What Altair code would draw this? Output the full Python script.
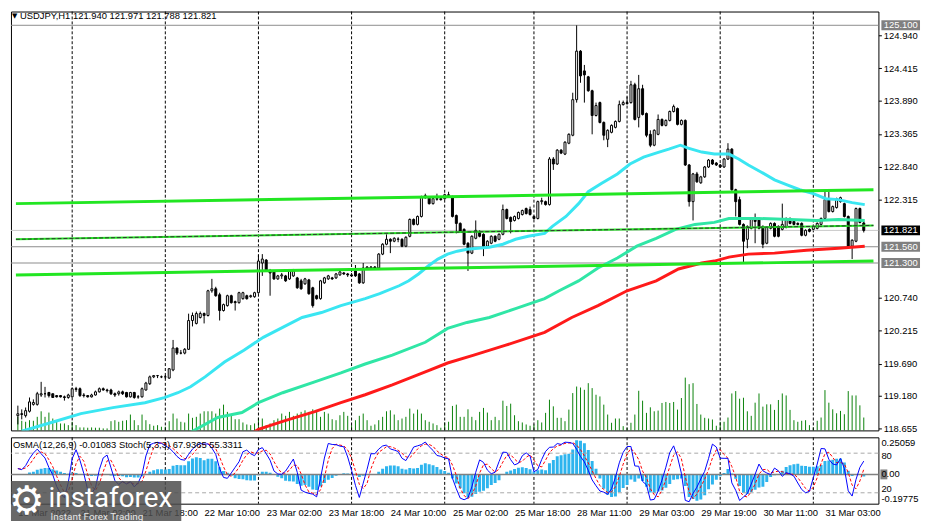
import altair as alt
import pandas as pd

# ---------------- data (USDJPY H1) ----------------
opens = [
    118.86, 118.89, 118.86, 118.93, 119.04, 119.04, 119.19, 119.21, 119.23, 119.21,
    119.18, 119.18, 119.16, 119.15, 119.16, 119.29, 119.29, 119.19, 119.18, 119.16,
    119.19, 119.24, 119.29, 119.27, 119.27, 119.21, 119.21, 119.24, 119.23, 119.16,
    119.23, 119.16, 119.16, 119.27, 119.37, 119.48, 119.50, 119.48, 119.48, 119.46,
    119.59, 119.94, 119.86, 119.86, 119.92, 120.381, 120.334, 120.429, 120.492, 120.461,
    120.856, 120.888, 120.793, 120.540, 120.619, 120.777, 120.682, 120.666, 120.730, 120.777,
    120.761, 120.761, 120.825, 121.300, 121.347, 121.173, 121.173, 121.046, 121.094, 121.094,
    121.046, 121.094, 121.062, 121.015, 120.967, 121.030, 120.904, 120.777, 120.730, 120.983,
    121.046, 121.062, 121.062, 121.110, 121.141, 121.125, 121.110, 121.173, 121.125, 120.983,
    121.220, 121.220, 121.236, 121.220, 121.442, 121.600, 121.679, 121.648, 121.679, 121.679,
    121.569, 121.727, 121.996, 121.917, 122.044, 122.344, 122.344, 122.249, 122.328, 122.328,
    122.328, 122.376, 122.344, 122.059, 121.933, 121.838, 121.616, 121.458, 121.695, 121.806,
    121.759, 121.569, 121.616, 121.727, 121.679, 121.759, 122.154, 122.028, 121.980, 122.012,
    122.075, 122.170, 122.154, 122.044, 122.012, 122.281, 122.281, 122.234, 122.962, 122.883,
    123.104, 123.041, 123.215, 123.342, 123.911, 124.687, 124.371, 124.276, 124.054, 123.658,
    123.864, 123.547, 123.278, 123.389, 123.468, 123.563, 123.832, 123.864, 123.864, 124.149,
    123.627, 124.086, 123.690, 123.357, 123.183, 123.357, 123.595, 123.500, 123.579, 123.722,
    123.769, 123.516, 123.579, 122.867, 122.281, 122.724, 122.582, 122.677, 122.835, 122.946,
    122.898, 122.867, 122.835, 122.962, 123.120, 122.471, 122.313, 121.917, 121.679, 121.854,
    122.012, 122.012, 121.885, 121.616, 121.854, 121.933, 121.885, 121.838, 121.869, 122.012,
    121.964, 121.933, 121.933, 121.743, 121.838, 121.838, 121.854, 121.917, 122.012, 122.328,
    122.123, 122.186, 122.281, 122.249, 122.044, 121.569, 121.648, 122.170, 121.940,
]
highs = [
    119.02, 118.96, 118.99, 119.15, 119.12, 119.24, 119.40, 119.32, 119.24, 119.21,
    119.19, 119.19, 119.18, 119.21, 119.31, 119.32, 119.31, 119.22, 119.19, 119.21,
    119.26, 119.31, 119.31, 119.29, 119.29, 119.23, 119.26, 119.26, 119.24, 119.24,
    119.24, 119.19, 119.31, 119.40, 119.50, 119.51, 119.51, 119.50, 119.51, 119.62,
    120.07, 119.95, 119.91, 119.94, 120.49, 120.508, 120.524, 120.524, 120.508, 120.872,
    121.046, 120.920, 120.825, 120.651, 120.793, 120.793, 120.698, 120.840, 120.840, 120.793,
    120.793, 120.840, 121.426, 121.442, 121.363, 121.205, 121.189, 121.110, 121.141, 121.110,
    121.189, 121.205, 121.078, 121.046, 121.062, 121.046, 120.920, 120.793, 121.030, 121.078,
    121.110, 121.078, 121.141, 121.173, 121.157, 121.141, 121.141, 121.268, 121.141, 121.300,
    121.252, 121.252, 121.252, 121.458, 121.616, 121.759, 121.695, 121.711, 121.711, 121.695,
    121.727, 122.012, 122.012, 122.059, 122.376, 122.408, 122.360, 122.344, 122.408, 122.360,
    122.408, 122.439, 122.376, 122.075, 121.949, 121.854, 121.632, 121.743, 121.980, 121.822,
    121.774, 121.664, 121.743, 121.743, 121.774, 122.234, 122.170, 122.044, 122.059, 122.123,
    122.154, 122.186, 122.202, 122.059, 122.297, 122.344, 122.297, 122.993, 122.993, 123.120,
    123.120, 123.247, 123.373, 124.022, 125.099, 124.703, 124.466, 124.291, 124.070, 123.864,
    123.880, 123.563, 123.437, 123.516, 123.579, 123.896, 123.896, 123.959, 124.212, 124.181,
    124.307, 124.149, 123.706, 123.421, 123.437, 123.674, 123.611, 123.595, 123.737, 123.832,
    123.785, 123.595, 123.595, 122.883, 122.740, 122.756, 122.693, 122.851, 122.962, 122.962,
    122.914, 122.883, 122.978, 123.215, 123.136, 122.487, 122.360, 121.933, 121.901, 122.028,
    122.091, 122.028, 121.901, 121.885, 121.949, 121.949, 121.901, 122.249, 122.028, 122.028,
    121.980, 121.949, 121.949, 121.838, 121.854, 121.901, 121.949, 122.028, 122.439, 122.439,
    122.218, 122.344, 122.360, 122.265, 122.059, 121.679, 122.186, 122.186, 121.971,
]
lows = [
    118.72, 118.80, 118.83, 118.91, 119.02, 119.02, 119.16, 119.15, 119.15, 119.15,
    119.15, 119.15, 119.10, 119.13, 119.15, 119.24, 119.16, 119.15, 119.15, 119.15,
    119.18, 119.23, 119.26, 119.23, 119.19, 119.16, 119.18, 119.19, 119.15, 119.15,
    119.13, 119.13, 119.15, 119.26, 119.35, 119.46, 119.46, 119.46, 119.45, 119.45,
    119.57, 119.83, 119.84, 119.84, 119.91, 120.286, 120.318, 120.413, 120.334, 120.445,
    120.825, 120.761, 120.381, 120.524, 120.603, 120.651, 120.540, 120.651, 120.714, 120.714,
    120.745, 120.745, 120.809, 121.094, 121.157, 120.777, 121.030, 121.030, 121.046, 120.999,
    121.030, 121.078, 120.888, 120.872, 120.951, 120.793, 120.587, 120.714, 120.714, 120.967,
    121.030, 121.030, 121.046, 121.094, 121.110, 121.078, 121.078, 121.078, 120.967, 120.967,
    121.205, 121.205, 121.205, 121.205, 121.426, 121.584, 121.458, 121.632, 121.632, 121.553,
    121.553, 121.711, 121.901, 121.901, 122.028, 122.328, 122.234, 122.234, 122.297, 122.297,
    122.313, 122.344, 122.028, 121.774, 121.790, 121.584, 121.173, 121.442, 121.679, 121.711,
    121.410, 121.553, 121.600, 121.632, 121.664, 121.743, 121.996, 121.774, 121.964, 121.996,
    122.059, 122.075, 122.059, 121.996, 121.996, 122.234, 122.218, 122.218, 122.788, 122.867,
    123.041, 123.025, 123.199, 123.326, 123.864, 124.181, 123.864, 124.038, 123.357, 123.642,
    123.532, 123.262, 123.152, 123.373, 123.452, 123.547, 123.817, 123.832, 123.848, 123.579,
    123.468, 123.658, 123.310, 123.152, 123.167, 123.342, 123.484, 123.484, 123.563, 123.706,
    123.500, 123.500, 122.851, 122.202, 121.980, 122.582, 122.566, 122.661, 122.819, 122.867,
    122.851, 122.819, 122.819, 122.946, 122.455, 122.044, 121.901, 121.300, 121.537, 121.838,
    121.616, 121.838, 121.537, 121.600, 121.838, 121.711, 121.711, 121.822, 121.854, 121.917,
    121.901, 121.901, 121.727, 121.727, 121.790, 121.822, 121.838, 121.901, 121.996, 122.107,
    122.107, 122.170, 122.265, 122.028, 121.553, 121.363, 121.632, 121.933, 121.788,
]
closes = [
    118.89, 118.88, 118.94, 119.08, 119.07, 119.21, 119.21, 119.21, 119.18, 119.15,
    119.16, 119.16, 119.15, 119.19, 119.29, 119.28, 119.18, 119.18, 119.16, 119.19,
    119.24, 119.29, 119.27, 119.26, 119.21, 119.19, 119.24, 119.21, 119.16, 119.23,
    119.15, 119.16, 119.29, 119.38, 119.48, 119.50, 119.50, 119.48, 119.48, 119.61,
    119.94, 119.86, 119.86, 119.92, 120.38, 120.461, 120.492, 120.492, 120.461, 120.856,
    120.888, 120.777, 120.540, 120.635, 120.777, 120.666, 120.666, 120.825, 120.825, 120.730,
    120.777, 120.825, 121.331, 121.363, 121.173, 121.141, 121.046, 121.094, 121.110, 121.015,
    121.173, 121.173, 120.904, 120.888, 121.046, 120.809, 120.619, 120.730, 121.015, 121.062,
    121.094, 121.046, 121.125, 121.157, 121.125, 121.110, 121.094, 121.094, 120.983, 121.220,
    121.236, 121.236, 121.220, 121.442, 121.600, 121.679, 121.648, 121.695, 121.683, 121.569,
    121.711, 121.996, 121.917, 122.044, 122.360, 122.376, 122.249, 122.328, 122.320, 122.313,
    122.392, 122.392, 122.044, 121.933, 121.806, 121.600, 121.458, 121.727, 121.822, 121.727,
    121.569, 121.648, 121.727, 121.648, 121.759, 122.154, 122.012, 121.964, 122.044, 122.107,
    122.139, 122.091, 122.075, 122.012, 122.281, 122.297, 122.234, 122.962, 122.883, 123.104,
    123.057, 123.231, 123.357, 123.911, 124.687, 124.291, 124.307, 124.054, 123.658, 123.817,
    123.547, 123.342, 123.421, 123.500, 123.563, 123.832, 123.864, 123.848, 124.149, 123.595,
    124.086, 123.674, 123.342, 123.183, 123.421, 123.595, 123.500, 123.579, 123.722, 123.801,
    123.516, 123.579, 122.867, 122.281, 122.724, 122.598, 122.677, 122.835, 122.946, 122.883,
    122.867, 122.835, 122.962, 123.120, 122.471, 122.281, 121.917, 121.648, 121.885, 122.012,
    121.964, 121.854, 121.600, 121.869, 121.933, 121.727, 121.727, 121.917, 122.012, 121.933,
    121.917, 121.917, 121.743, 121.822, 121.806, 121.885, 121.933, 122.012, 122.313, 122.123,
    122.202, 122.328, 122.344, 122.044, 121.569, 121.664, 122.170, 121.949, 121.821,
]
volumes = [
    1370, 970, 870, 1030, 970, 1370, 1930, 1370, 1800, 1200,
    870, 700, 700, 530, 870, 530, 300, 300, 270, 300,
    270, 270, 200, 200, 930, 1030, 870, 970, 1030, 1600,
    1030, 530, 1600, 1030, 630, 470, 530, 370, 370, 930,
    1700, 1200, 870, 800, 1700, 1270, 1370, 1700, 1930, 1930,
    1930, 1700, 2200, 2600, 1870, 1470, 1130, 1130, 800, 600,
    530, 700, 1270, 1200, 530, 700, 1030, 1200, 1700, 1470,
    1870, 1470, 1700, 1870, 2030, 1870, 2130, 1870, 1370, 1870,
    1700, 1130, 1030, 1530, 1870, 1470, 530, 1030, 1470, 1700,
    1030, 470, 600, 1030, 1370, 1930, 2030, 1600, 1030, 1200,
    1370, 2200, 1700, 2100, 1700, 1030, 870, 700, 530, 270,
    800, 870, 2470, 2600, 1370, 1370, 2130, 1370, 1030, 1870,
    2270, 1800, 1030, 1370, 1030, 3000, 2470, 2700, 1530, 930,
    800, 600, 470, 600, 1030, 800, 1770, 3100, 2430, 1270,
    1270, 930, 2100, 3770, 4430, 4330, 4100, 4770, 4270, 3600,
    3430, 2600, 1600, 770, 1200, 1200, 430, 270, 770, 1600,
    4000, 3000, 1770, 2330, 1930, 2000, 2770, 2870, 2770, 2870,
    2100, 3270, 5330, 4670, 4770, 2670, 1600, 1270, 1200, 1100,
    470, 870, 870, 1300, 3730, 3970, 3200, 3300, 1930, 1470,
    2800, 3730, 2400, 2630, 2630, 2070, 3070, 3730, 3530, 2070,
    1030, 870, 970, 1030, 530, 300, 970, 1300, 4070, 2800,
    2130, 1730, 1970, 1630, 3970, 3530, 3530, 2530, 1300,
]

# moving averages (bar index, price)
ma_fast_idx = [1, 9.5, 16.25, 24.5, 32.75, 37.75, 41.25, 44.5, 48.25, 53.25, 58.25, 63.25, 68.25,
               73.25, 78.25, 83.25, 89.5, 93.25, 98.25, 100.75, 103.25, 105.75, 108.25, 110.75,
               113.25, 115.75, 121.5, 125, 128.25, 131.5, 135.75, 137.75, 141.25, 144.5, 147,
               150.25, 154.5, 157.75, 161.25, 165.25, 167.75, 170.75, 172.75, 176.25, 179.5,
               183.25, 185.75, 188.25, 191.5, 195, 198.25, 201.5, 205, 208.25, 211.5, 215, 218.25]
ma_fast_val = [118.61, 118.767, 118.893, 118.988, 119.067, 119.147, 119.226, 119.321, 119.479,
               119.716, 119.907, 120.112, 120.271, 120.429, 120.508, 120.619, 120.730, 120.809,
               120.936, 121.015, 121.125, 121.252, 121.363, 121.442, 121.489, 121.521, 121.553,
               121.600, 121.679, 121.727, 121.774, 121.885, 122.044, 122.249, 122.439, 122.566,
               122.724, 122.882, 122.993, 123.073, 123.120, 123.183, 123.136, 123.073, 123.041,
               123.041, 122.962, 122.867, 122.756, 122.629, 122.550, 122.471, 122.408, 122.328,
               122.313, 122.265, 122.233]
ma_mid_idx = [44.5, 51.5, 57.75, 62, 68.25, 76.5, 83.25, 89.5, 96.5, 105, 110.75, 115.75, 121.5,
              128.25, 135.75, 139.5, 144.5, 149.5, 154.5, 159.5, 164.5, 169.5, 174.5, 179.5,
              183.25, 190.75, 199, 205.75, 211.5, 218.25]
ma_mid_val = [118.593, 118.830, 118.909, 119.067, 119.226, 119.400, 119.542, 119.685, 119.827,
              120.033, 120.255, 120.350, 120.429, 120.571, 120.730, 120.856, 121.014, 121.220,
              121.379, 121.569, 121.695, 121.838, 121.917, 121.949, 122.012, 122.012, 121.996,
              121.980, 121.996, 121.980]
ma_slow_idx = [60.75, 62, 68.25, 76.5, 83.25, 89.5, 96.5, 105, 110.75, 117.5, 125.75, 135.75,
               142.75, 149.5, 157, 164.5, 170.25, 176.25, 179.5, 183.25, 188.25, 195, 203.25,
               211.5, 218.25]
ma_slow_val = [118.593, 118.640, 118.767, 118.925, 119.067, 119.194, 119.352, 119.558, 119.701,
               119.827, 119.986, 120.191, 120.429, 120.619, 120.856, 121.014, 121.205, 121.300,
               121.331, 121.394, 121.442, 121.458, 121.505, 121.537, 121.569]

# trend lines (two end points each)
trend_idx = [-0.5, 220.5]
trend_upper = [122.249, 122.470]
trend_lower = [121.109, 121.331]
trend_mid = [121.679, 121.901]

level_prices = [125.100, 121.560, 121.300]
bid_price = 121.821
price_ticks = [124.940, 124.415, 123.890, 123.365, 122.840, 122.315,
               120.740, 120.215, 119.690, 119.180, 118.655]
day_breaks = [14, 38, 62, 86, 110, 133, 157, 181, 205]
time_ticks = list(range(0, 209, 16))
time_labels = ['18 Mar 2022', '21 Mar 02:00', '21 Mar 18:00', '22 Mar 10:00', '23 Mar 02:00',
               '23 Mar 18:00', '24 Mar 10:00', '25 Mar 02:00', '25 Mar 18:00', '28 Mar 11:00',
               '29 Mar 03:00', '29 Mar 19:00', '30 Mar 11:00', '31 Mar 03:00']
title_main = 'USDJPY,H1  121.940 121.971 121.788 121.821'
title_osc = 'OsMA(12,26,9) -0.01083  Stoch(5,3,3) 67.9365 55.3311'
osma_max, osma_min = 0.25059, -0.19775
stoch_hi, stoch_lo = 80, 20

# ---------------- table + indicators ----------------
n = len(closes)
df = pd.DataFrame({'i': list(range(n)), 'o': opens[:n], 'h': highs[:n], 'l': lows[:n],
                   'c': closes[:n], 'v': volumes[:n]})
df['z'] = 0.0
cs = df['c']
macd = cs.ewm(span=12, adjust=False).mean() - cs.ewm(span=26, adjust=False).mean()
df['osma'] = macd - macd.rolling(9, min_periods=1).mean()
ll = df['l'].rolling(5, min_periods=1).min()
hh = df['h'].rolling(5, min_periods=1).max()
df['k'] = 100 * (cs - ll).rolling(3, min_periods=1).sum() / (hh - ll).rolling(3, min_periods=1).sum()
df['d'] = df['k'].rolling(3, min_periods=1).mean()

# ---------------- layout ----------------
W, HM, HL = 876, 423, 67
FONT = 'Liberation Sans'
FS = 9.5

xs = alt.Scale(domain=[-0.5, 220.5], nice=False, zero=False)
ps = alt.Scale(domain=[118.624, 125.320], nice=False, zero=False)
vs = alt.Scale(domain=[0, 42300], nice=False, zero=False)
oss = alt.Scale(domain=[osma_min, osma_max], nice=False, zero=False)
sss = alt.Scale(domain=[3.5, 104], nice=False, zero=False)

price_axis = alt.Axis(orient='right', values=price_ticks, format='.3f', tickSize=3,
                      tickColor='black', domain=False, grid=False, labelFont=FONT,
                      labelFontSize=FS, labelColor='black', labelPadding=2, title=None,
                      labelOverlap=False, labelBound=False, labelFlush=False)


def Xm():
    return alt.X('i:Q', scale=xs, axis=None)


def Yp(f):
    return alt.Y(f, scale=ps, axis=price_axis)


def one(text):
    return pd.DataFrame({'t': [text]})


# --- main pane ---
grid_main = alt.Chart(pd.DataFrame({'i': day_breaks})).mark_rule(
    color='black', strokeWidth=1, strokeDash=[3, 2]).encode(x=Xm())
gray_rules = alt.Chart(pd.DataFrame({'p': level_prices})).mark_rule(
    color='#8c8c8c', strokeWidth=1).encode(y=Yp('p:Q'))
bid_rule = alt.Chart(pd.DataFrame({'p': [bid_price]})).mark_rule(
    color='#c8c8c8', strokeWidth=1).encode(y=Yp('p:Q'))

vol = alt.Chart(df).mark_rule(color='#0a820a', strokeWidth=1).encode(
    x=Xm(), y=alt.Y('v:Q', scale=vs, axis=None), y2=alt.Y2('z'))

wicks = alt.Chart(df).mark_rule(color='black', strokeWidth=1, clip=True).encode(
    x=Xm(), y=Yp('l:Q'), y2=alt.Y2('h'))
bodies = alt.Chart(df).mark_bar(size=2, stroke='black', strokeWidth=1, clip=True).encode(
    x=Xm(), y=Yp('o:Q'), y2=alt.Y2('c'),
    fill=alt.condition('datum.c >= datum.o', alt.value('white'), alt.value('black')))


def ma_line(idx, vals, color):
    d = pd.DataFrame({'i': idx, 'p': vals})
    return alt.Chart(d).mark_line(color=color, strokeWidth=3, clip=True).encode(
        x=Xm(), y=Yp('p:Q'))


def trend(vals, color, width, dash=None):
    d = pd.DataFrame({'i': trend_idx, 'p': vals})
    kw = dict(color=color, strokeWidth=width, clip=True)
    if dash:
        kw['strokeDash'] = dash
    return alt.Chart(d).mark_line(**kw).encode(x=Xm(), y=Yp('p:Q'))


box_df = pd.DataFrame({'p': level_prices, 't': ['%.3f' % v for v in level_prices]})
bid_df = pd.DataFrame({'p': [bid_price], 't': ['%.3f' % bid_price]})
boxes = alt.Chart(box_df).mark_rect(color='#808080', yOffset=5, y2Offset=-5).encode(
    x=alt.value(W + 3), x2=alt.value(W + 42), y=Yp('p:Q'), y2=alt.Y2('p'))
box_txt = alt.Chart(box_df).mark_text(align='center', baseline='middle', color='white',
                                      font=FONT, fontSize=FS).encode(
    x=alt.value(W + 22.5), y=Yp('p:Q'), text='t:N')
bid_box = alt.Chart(bid_df).mark_rect(color='black', yOffset=5, y2Offset=-5).encode(
    x=alt.value(W + 3), x2=alt.value(W + 42), y=Yp('p:Q'), y2=alt.Y2('p'))
bid_txt = alt.Chart(bid_df).mark_text(align='center', baseline='middle', color='white',
                                      font=FONT, fontSize=FS).encode(
    x=alt.value(W + 22.5), y=Yp('p:Q'), text='t:N')

tri = alt.Chart(one('▼')).mark_text(align='left', baseline='middle', font='DejaVu Sans',
                                    fontSize=7, color='black').encode(
    x=alt.value(1), y=alt.value(5), text='t:N')
ttl = alt.Chart(one(title_main)).mark_text(align='left', baseline='middle', font=FONT,
                                           fontSize=FS, color='black').encode(
    x=alt.value(9), y=alt.value(5), text='t:N')

price_group = alt.layer(
    grid_main, gray_rules, bid_rule, wicks, bodies,
    ma_line(ma_slow_idx, ma_slow_val, '#ff1a1a'),
    ma_line(ma_mid_idx, ma_mid_val, '#30e6a6'),
    ma_line(ma_fast_idx, ma_fast_val, '#3ae6f2'),
    trend(trend_upper, '#22e622', 3),
    trend(trend_lower, '#22e622', 3),
    trend(trend_mid, '#22e622', 2),
    trend(trend_mid, '#333333', 1, [4, 2]),
    boxes, box_txt, bid_box, bid_txt, tri, ttl,
)
main = alt.layer(vol, price_group).resolve_scale(y='independent').properties(width=W, height=HM)

# --- oscillator pane ---
time_expr = '[' + ','.join("'" + s + "'" for s in time_labels) + '][datum.value / 16]'
time_axis = alt.Axis(values=time_ticks, labelExpr=time_expr, labelAlign='left',
                     labelBaseline='top', labelPadding=4, ticks=False, domain=False,
                     grid=False, labelFont=FONT, labelFontSize=FS, labelColor='black',
                     labelOverlap=False, labelBound=False, labelFlush=False, title=None)


def Xl():
    return alt.X('i:Q', scale=xs, axis=time_axis)


def Yo(f):
    return alt.Y(f, scale=oss, axis=None)


def Ys(f):
    return alt.Y(f, scale=sss, axis=None)


grid_low = alt.Chart(pd.DataFrame({'i': day_breaks})).mark_rule(
    color='black', strokeWidth=1, strokeDash=[3, 2]).encode(x=Xl())

osma_bars = alt.Chart(df).mark_bar(size=3, color='#2db4ee', clip=True).encode(
    x=Xl(), y=Yo('osma:Q'), y2=alt.Y2('z'))
zero_rule = alt.Chart(pd.DataFrame({'p': [0.0]})).mark_rule(
    color='#808080', strokeWidth=1.5).encode(y=Yo('p:Q'))
zero_box = alt.Chart(pd.DataFrame({'p': [0.0]})).mark_rect(
    color='#808080', yOffset=5, y2Offset=-5).encode(
    x=alt.value(W + 2), x2=alt.value(W + 9), y=Yo('p:Q'), y2=alt.Y2('p'))


def olabel(val, txt, baseline, dy):
    return alt.Chart(pd.DataFrame({'p': [val], 't': [txt]})).mark_text(
        align='left', baseline=baseline, dy=dy, font=FONT, fontSize=FS, color='black').encode(
        x=alt.value(W + 3), y=Yo('p:Q'), text='t:N')


def slabel(val, txt, baseline, dy):
    return alt.Chart(pd.DataFrame({'s': [val], 't': [txt]})).mark_text(
        align='left', baseline=baseline, dy=dy, font=FONT, fontSize=FS, color='black').encode(
        x=alt.value(W + 3), y=Ys('s:Q'), text='t:N')


osma_group = alt.layer(
    osma_bars, zero_rule, zero_box,
    olabel(osma_max, '%.5f' % osma_max, 'top', 1),
    olabel(0.0, '0.00', 'middle', 0),
    olabel(osma_min, '%.5f' % osma_min, 'bottom', 0),
)

lvl_df = pd.DataFrame({'s': [stoch_hi, stoch_lo]})
lvl_rules = alt.Chart(lvl_df).mark_rule(color='#a8a8a8', strokeWidth=1, strokeDash=[4, 3]).encode(
    y=Ys('s:Q'))
d_line = alt.Chart(df).mark_line(color='#ff0000', strokeWidth=1, strokeDash=[3, 2], clip=True).encode(
    x=Xl(), y=Ys('d:Q'))
k_line = alt.Chart(df).mark_line(color='#0000ff', strokeWidth=1, clip=True).encode(
    x=Xl(), y=Ys('k:Q'))
stoch_group = alt.layer(lvl_rules, d_line, k_line,
                        slabel(stoch_hi, str(stoch_hi), 'top', -2),
                        slabel(stoch_lo, str(stoch_lo), 'bottom', 1))

osc_ttl = alt.Chart(one(title_osc)).mark_text(align='left', baseline='middle', font=FONT,
                                              fontSize=FS, color='black').encode(
    x=alt.value(2), y=alt.value(8), text='t:N')

wm_rect = alt.Chart(one('')).mark_rect(color='#4d4d4d', opacity=0.85).encode(
    x=alt.value(0), x2=alt.value(172), y=alt.value(44), y2=alt.value(88))
wm_gear = alt.Chart(one('⚙')).mark_text(align='center', baseline='middle', font='DejaVu Sans',
                                        fontSize=40, color='white').encode(
    x=alt.value(16), y=alt.value(65), text='t:N')
wm_name = alt.Chart(one('instaforex')).mark_text(align='left', baseline='alphabetic', font='Roboto',
                                                 fontSize=28, color='white').encode(
    x=alt.value(38), y=alt.value(70), text='t:N')
wm_sub = alt.Chart(one('Instant Forex Trading')).mark_text(align='left', baseline='middle',
                                                           font='Roboto', fontSize=10,
                                                           color='#e6e6e6').encode(
    x=alt.value(40), y=alt.value(80), text='t:N')

lower = alt.layer(grid_low, osma_group, stoch_group, osc_ttl,
                  wm_rect, wm_gear, wm_name, wm_sub).resolve_scale(y='independent').properties(
    width=W, height=HL)

chart = alt.vconcat(main, lower, spacing=2).properties(
    padding=0, background='white').configure_view(stroke='black', strokeWidth=1)

chart.save('out.html', embed_options={'renderer': 'svg', 'actions': False})
